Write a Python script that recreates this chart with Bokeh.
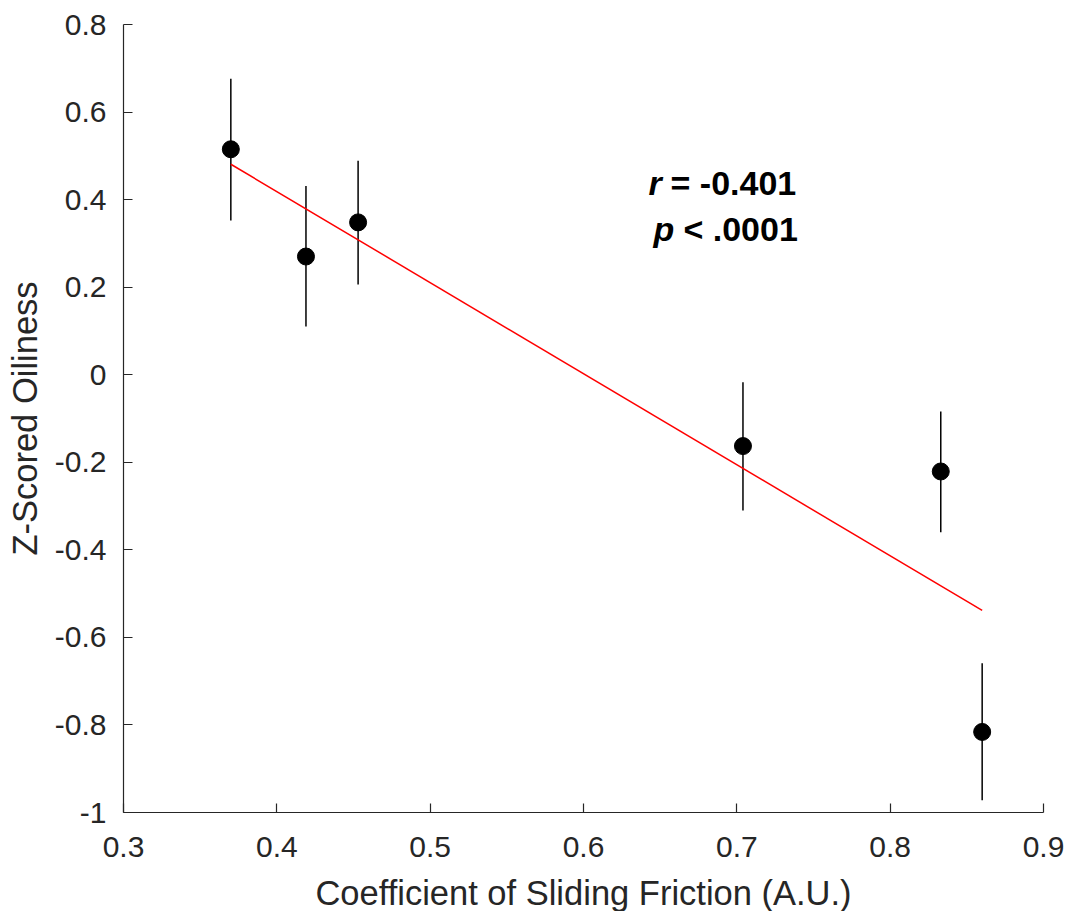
import numpy as np
from bokeh.plotting import figure
from bokeh.models import FixedTicker, Label, Range1d
from bokeh.embed import file_html
from bokeh.resources import INLINE

# --- data ---
friction = [0.370, 0.419, 0.453, 0.704, 0.833, 0.860]
oiliness = [0.515, 0.270, 0.348, -0.163, -0.221, -0.816]
err_hi = [0.676, 0.431, 0.489, -0.017, -0.084, -0.659]
err_lo = [0.352, 0.110, 0.206, -0.310, -0.360, -0.972]

x_ticks = [0.3, 0.4, 0.5, 0.6, 0.7, 0.8, 0.9]
x_tick_labels = ["0.3", "0.4", "0.5", "0.6", "0.7", "0.8", "0.9"]
y_ticks = [-1.0, -0.8, -0.6, -0.4, -0.2, 0.0, 0.2, 0.4, 0.6, 0.8]
y_tick_labels = ["-1", "-0.8", "-0.6", "-0.4", "-0.2", "0", "0.2", "0.4", "0.6", "0.8"]

x_title = "Coefficient of Sliding Friction (A.U.)"
y_title = "Z-Scored Oiliness"
stat_r = "-0.401"
stat_p = ".0001"

# least-squares fit line across the data range
slope, intercept = np.polyfit(friction, oiliness, 1)
fit_x = [min(friction), max(friction)]
fit_y = [slope * v + intercept for v in fit_x]

FONT = "Liberation Sans"
AX = "#262626"

p = figure(frame_width=920, frame_height=788, output_backend="svg", toolbar_location=None,
           x_range=Range1d(0.3, 0.9), y_range=Range1d(-1.0, 0.8),
           min_border_left=123, min_border_right=24, min_border_top=24,
           min_border_bottom=99)
p.outline_line_color = None
p.xgrid.visible = False
p.ygrid.visible = False
p.background_fill_color = "white"
p.border_fill_color = "white"

p.segment(x0=friction, y0=err_lo, x1=friction, y1=err_hi, line_color="black", line_width=1.5)
p.line(fit_x, fit_y, line_color="#ff0000", line_width=1.5)
p.scatter(friction, oiliness, size=17, marker="circle", fill_color="black", line_color="black")

for ax, ticks, labels in ((p.xaxis[0], x_ticks, x_tick_labels), (p.yaxis[0], y_ticks, y_tick_labels)):
    ax.ticker = FixedTicker(ticks=ticks)
    ax.major_label_overrides = {t: l for t, l in zip(ticks, labels)}
    ax.major_tick_in = 9
    ax.major_tick_out = 0
    ax.minor_tick_line_color = None
    ax.axis_line_color = AX
    ax.axis_line_width = 1.2
    ax.major_tick_line_color = AX
    ax.major_tick_line_width = 1.2
    ax.major_label_text_font = FONT
    ax.major_label_text_font_size = "30px"
    ax.major_label_text_color = AX
    ax.axis_label_text_font = FONT
    ax.axis_label_text_font_size = "34.5px"
    ax.axis_label_text_color = AX
    ax.axis_label_text_font_style = "normal"

p.xaxis.axis_label = x_title
p.yaxis.axis_label = y_title
p.xaxis.major_label_standoff = 24
p.yaxis.major_label_standoff = 17
p.xaxis.axis_label_standoff = 14
p.yaxis.axis_label_standoff = 8

ann = dict(text_font=FONT, text_font_size="34px", text_color="black",
           text_align="left", text_baseline="alphabetic")
p.add_layout(Label(x=0.6424, y=0.438, text="r", text_font_style="bold italic", **ann))
p.add_layout(Label(x=0.6424, y=0.438, x_offset=22, text="= " + stat_r, text_font_style="bold", **ann))
p.add_layout(Label(x=0.6456, y=0.333, text="p", text_font_style="bold italic", **ann))
p.add_layout(Label(x=0.6456, y=0.333, x_offset=30, text="< " + stat_p, text_font_style="bold", **ann))

open("out.html", "w").write(file_html(p, INLINE))
